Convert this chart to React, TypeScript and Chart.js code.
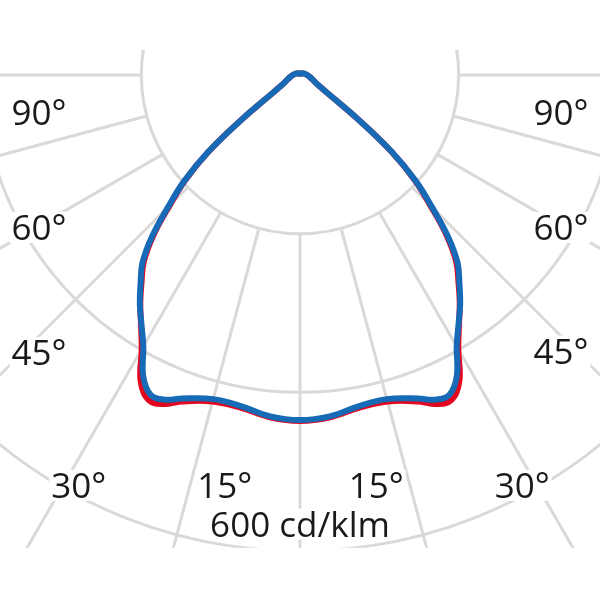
import React, { useEffect, useRef } from "react";
import { Chart, registerables } from "chart.js";

Chart.register(...registerables);

// Polar angles (degrees from nadir) and luminous intensity (cd/klm)
const ANGLES = [0, 5, 10, 15, 20, 22.5, 25, 27.5, 30, 32.5, 35, 37.5, 40, 42.5, 45, 47.5, 50, 52.5, 55, 60, 65, 70, 80, 90, 105, 120, 135, 150, 165, 180];
const BLUE_VALUES = [435, 432, 424, 423, 434, 443, 445, 428, 395, 372, 352, 330, 309, 276, 235, 198, 152, 95, 55, 28, 21, 17, 12, 9, 6, 4, 3, 2, 2, 2];
const RED_VALUES = [436, 433, 426, 426, 438, 449, 452, 435, 399, 373, 351, 328, 306, 273, 232, 196, 151, 95, 55, 28, 21, 17, 12, 9, 6, 4, 3, 2, 2, 2];

// Grid
const RING_VALUES = [200, 400, 600];
const SPOKE_ANGLES = [-90, -75, -60, -45, -30, -15, 0, 15, 30, 45, 60, 75, 90];

// Labels
const ANGLE_LABELS = ["90°", "60°", "45°", "30°", "15°", "15°", "30°", "45°", "60°", "90°"];
const SCALE_LABEL = "600 cd/klm";

// layout (data-space positions of label centres / baselines)
const LABEL_POS: [number, number][] = [
  [-329, -63], [-329, -208], [-329, -366], [-279, -533], [-95, -533],
  [96, -533], [280, -533], [329, -364], [329, -208], [329, -63],
];
const SCALE_LABEL_POS: [number, number] = [0, -582];
const GRID_CLIP_TOP = 31.5;
const GRID_CLIP_BOTTOM = -596;
const FONT_SIZE = 35;

function toPoints(values: number[]) {
  const pts: { x: number; y: number }[] = [];
  for (let i = ANGLES.length - 1; i >= 0; i--) {
    const t = (ANGLES[i] * Math.PI) / 180;
    pts.push({ x: -values[i] * Math.sin(t), y: -values[i] * Math.cos(t) });
  }
  for (let i = 1; i < ANGLES.length; i++) {
    const t = (ANGLES[i] * Math.PI) / 180;
    pts.push({ x: values[i] * Math.sin(t), y: -values[i] * Math.cos(t) });
  }
  return pts;
}

const polarGrid = {
  id: "polarGrid",
  beforeDatasetsDraw(chart: any) {
    const { ctx, chartArea, scales } = chart;
    const xs = scales.x, ys = scales.y;
    const cx = xs.getPixelForValue(0);
    const cy = ys.getPixelForValue(0);
    const k = (xs.getPixelForValue(100) - cx) / 100;
    const top = ys.getPixelForValue(GRID_CLIP_TOP);
    const bottom = ys.getPixelForValue(GRID_CLIP_BOTTOM);
    ctx.save();
    ctx.beginPath();
    ctx.rect(chartArea.left, top, chartArea.right - chartArea.left, bottom - top);
    ctx.clip();
    ctx.strokeStyle = "#d9d9d9";
    ctx.lineWidth = 3;
    RING_VALUES.forEach((r) => {
      ctx.beginPath();
      ctx.arc(cx, cy, r * k, 0, Math.PI * 2);
      ctx.stroke();
    });
    const r0 = RING_VALUES[0];
    SPOKE_ANGLES.forEach((a) => {
      const t = (a * Math.PI) / 180;
      ctx.beginPath();
      ctx.moveTo(xs.getPixelForValue(r0 * Math.sin(t)), ys.getPixelForValue(-r0 * Math.cos(t)));
      ctx.lineTo(xs.getPixelForValue(2000 * Math.sin(t)), ys.getPixelForValue(-2000 * Math.cos(t)));
      ctx.stroke();
    });
    ctx.restore();
  },
  afterDatasetsDraw(chart: any) {
    const { ctx, scales } = chart;
    const xs = scales.x, ys = scales.y;
    ctx.save();
    ctx.font = `${FONT_SIZE}px "Open Sans", "Noto Sans", sans-serif`;
    ctx.textAlign = "center";
    ctx.textBaseline = "alphabetic";
    const cap = FONT_SIZE * 0.72;
    const draw = (text: string, pos: [number, number]) => {
      const px = xs.getPixelForValue(pos[0]);
      const py = ys.getPixelForValue(pos[1]);
      const w = ctx.measureText(text).width;
      ctx.fillStyle = "#ffffff";
      ctx.fillRect(px - w / 2 - 2, py - cap - 3, w + 4, cap + 6);
      ctx.fillStyle = "#1a1a1a";
      ctx.fillText(text, px, py);
    };
    ANGLE_LABELS.forEach((t, i) => draw(t, LABEL_POS[i]));
    draw(SCALE_LABEL, SCALE_LABEL_POS);
    ctx.restore();
  },
};

export default function App() {
  const ref = useRef<HTMLCanvasElement | null>(null);
  useEffect(() => {
    if (!ref.current) return;
    const chart = new Chart(ref.current, {
      type: "scatter",
      data: {
        datasets: [
          {
            label: "C90-C270",
            data: toPoints(BLUE_VALUES),
            showLine: true,
            borderColor: "#176ab6",
            borderWidth: 6,
            pointRadius: 0,
            tension: 0.4,
            fill: false,
            borderJoinStyle: "round",
            borderCapStyle: "round",
            order: 1,
          },
          {
            label: "C0-C180",
            data: toPoints(RED_VALUES),
            showLine: true,
            borderColor: "#e2061e",
            borderWidth: 6,
            pointRadius: 0,
            tension: 0.4,
            fill: false,
            borderJoinStyle: "round",
            borderCapStyle: "round",
            order: 2,
          },
        ],
      },
      options: {
        animation: false,
        responsive: false,
        devicePixelRatio: 1,
        layout: { padding: 0 },
        plugins: { legend: { display: false }, tooltip: { enabled: false } },
        scales: {
          x: { type: "linear", min: -378.15, max: 378.15, display: false },
          y: { type: "linear", min: -661.76, max: 94.54, display: false },
        },
      },
      plugins: [polarGrid],
    } as any);
    return () => chart.destroy();
  }, []);
  return (
    <div style={{ position: "absolute", left: 0, top: 0, width: 600, height: 600, background: "#ffffff" }}>
      <canvas ref={ref} width={600} height={600} style={{ display: "block" }} />
    </div>
  );
}
